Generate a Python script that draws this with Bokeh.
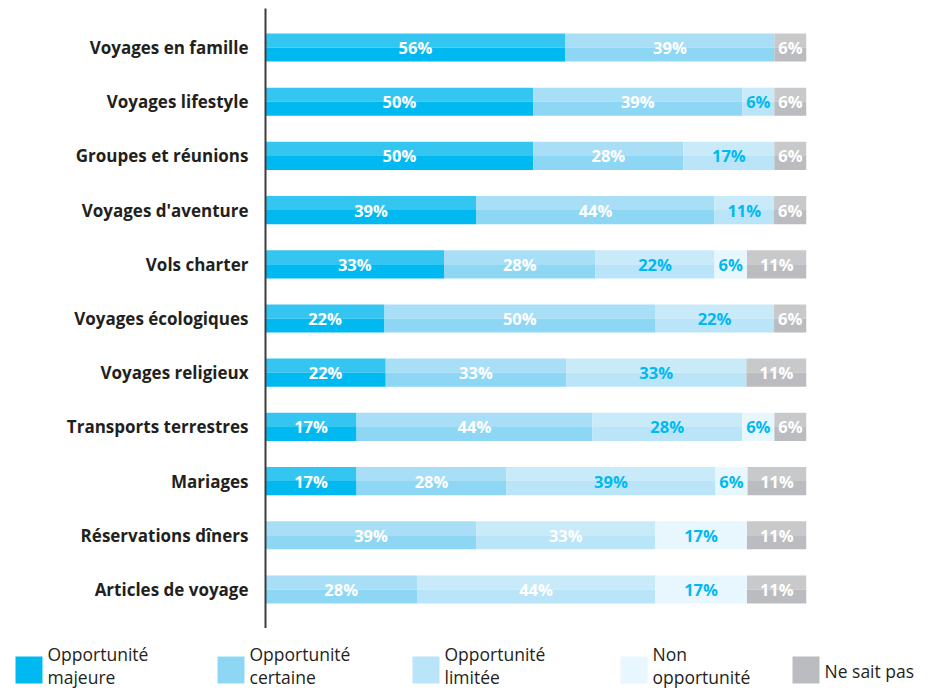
from bokeh.plotting import figure
from bokeh.models import FactorRange, Range1d, ColumnDataSource
from bokeh.transform import dodge
from bokeh.layouts import column
from bokeh.embed import file_html
from bokeh.resources import INLINE
from bokeh.core.properties import value
import numpy as np

# ---------------- data ----------------
categories = ["Voyages en famille", "Voyages lifestyle", "Groupes et réunions",
              "Voyages d'aventure", "Vols charter", "Voyages écologiques",
              "Voyages religieux", "Transports terrestres", "Mariages",
              "Réservations dîners", "Articles de voyage"]
series_labels = ["Opportunité\nmajeure", "Opportunité\ncertaine", "Opportunité\nlimitée",
                 "Non\nopportunité", "Ne sait pas"]
majeure  = [56, 50, 50, 39, 33, 22, 22, 17, 17, 0, 0]
certaine = [39, 39, 28, 44, 28, 50, 33, 44, 28, 39, 28]
limitee  = [0, 6, 17, 11, 22, 22, 33, 28, 39, 33, 44]
non_opp  = [0, 0, 0, 0, 6, 0, 0, 6, 6, 17, 17]
nsp      = [6, 6, 6, 6, 11, 6, 11, 6, 11, 11, 11]
series_values = [majeure, certaine, limitee, non_opp, nsp]

# ---------------- style ----------------
FONT = "Open Sans"
TXT = "#231F20"
BLUE = "#00B9F0"
WHITE = "#FFFFFF"
top_colors = ["#35C5F1", "#A8DFF7", "#C8EAF9", "#E8F6FD", "#C8C9CB"]
bot_colors = ["#00B9F0", "#8DD7F5", "#BAE4F8", "#E8F6FD", "#BBBCBF"]
label_colors = [WHITE, WHITE, BLUE, BLUE, WHITE]
# rows without "majeure": limitée labels are white in the original
white_limitee_rows = {"Réservations dîners", "Articles de voyage"}

# ---------------- main chart ----------------
factors = list(reversed(categories))
p = figure(width=922, height=628, output_backend="svg", toolbar_location=None,
           y_range=FactorRange(factors=factors, range_padding=0.22,
                               range_padding_units="absolute"),
           x_range=Range1d(0, 100), x_axis_location=None,
           min_border_left=265, min_border_right=116,
           min_border_top=8, min_border_bottom=0)
p.outline_line_color = None
p.xgrid.visible = False
p.ygrid.visible = False
p.frame_align = False

vals = np.array(series_values, dtype=float)  # shape (5, 11)
totals = vals.sum(axis=0)
cum = np.cumsum(vals, axis=0)
lefts = (cum - vals) / totals * 100.0
rights = cum / totals * 100.0

BAR_H = 0.52
for s in range(len(series_values)):
    src = ColumnDataSource(dict(cat=categories, left=lefts[s], right=rights[s]))
    p.hbar(y=dodge("cat", BAR_H / 4, range=p.y_range), left="left", right="right",
           height=BAR_H / 2, source=src, fill_color=top_colors[s], line_color=None)
    p.hbar(y=dodge("cat", -BAR_H / 4, range=p.y_range), left="left", right="right",
           height=BAR_H / 2, source=src, fill_color=bot_colors[s], line_color=None)

lx, ly, lt, lc = [], [], [], []
for s in range(len(series_values)):
    for i, c in enumerate(categories):
        v = series_values[s][i]
        if v <= 0:
            continue
        lx.append((lefts[s][i] + rights[s][i]) / 2)
        ly.append(c)
        lt.append(f"{v}%")
        col = label_colors[s]
        if s == 2 and c in white_limitee_rows:
            col = WHITE
        lc.append(col)
p.text(x=lx, y=ly, text=lt, text_color=lc, text_align="center", text_baseline="middle",
       text_font=value(FONT), text_font_style="bold", text_font_size="16.5px")

ax = p.yaxis[0]
ax.axis_line_color = "#3C3C3C"
ax.axis_line_width = 2
ax.major_tick_line_color = None
ax.minor_tick_line_color = None
ax.major_label_standoff = 11
ax.major_label_text_font = FONT
ax.major_label_text_font_style = "bold"
ax.major_label_text_font_size = "17px"
ax.major_label_text_color = TXT

# ---------------- legend ----------------
LH = 62
LW = 922
lg = figure(width=LW, height=LH, output_backend="svg", toolbar_location=None,
            x_range=Range1d(0, LW), y_range=Range1d(LH, 0),
            x_axis_location=None, y_axis_location=None,
            min_border=0, min_border_left=0, min_border_right=0,
            min_border_top=0, min_border_bottom=0)
lg.outline_line_color = None
lg.xgrid.visible = False
lg.ygrid.visible = False
lg.frame_align = False
sw_x = [15, 217, 412, 620, 792]
sw_y = 28
sw = 27
lg.quad(left=sw_x, right=[x + sw for x in sw_x], top=[sw_y] * 5, bottom=[sw_y + sw] * 5,
        fill_color=bot_colors, line_color=None)
lg.text(x=[x + 32 for x in sw_x], y=[37, 37, 37, 37, 42], text=series_labels,
        text_color=TXT, text_align="left", text_baseline="middle",
        text_font=value(FONT), text_font_size="17.5px", text_line_height=0.95)

layout = column(p, lg, spacing=0)
open("out.html", "w").write(file_html(layout, INLINE))
